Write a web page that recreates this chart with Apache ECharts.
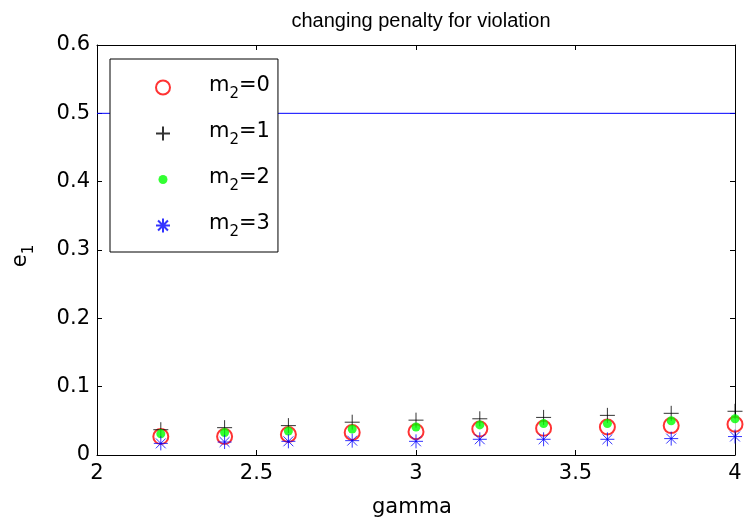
<!DOCTYPE html>
<html>
<head>
<meta charset="utf-8">
<script src="https://cdn.jsdelivr.net/npm/echarts@6/dist/echarts.min.js"></script>
<style>
html,body{margin:0;padding:0;background:#fff;}
#c{width:746px;height:529px;}
</style>
</head>
<body>
<div id="c"></div>
<script>
var gamma = [2.2, 2.4, 2.6, 2.8, 3.0, 3.2, 3.4, 3.6, 3.8, 4.0];
var m2_0 = [0.027, 0.027, 0.030, 0.033, 0.034, 0.038, 0.039, 0.041, 0.043, 0.045];
var m2_1 = [0.037, 0.040, 0.043, 0.048, 0.051, 0.053, 0.055, 0.058, 0.061, 0.064];
var m2_2 = [0.031, 0.033, 0.035, 0.038, 0.041, 0.044, 0.046, 0.046, 0.050, 0.053];
var m2_3 = [0.017, 0.019, 0.020, 0.021, 0.020, 0.023, 0.023, 0.023, 0.024, 0.027];
var refLineX = [2, 4];
var refLineY = [0.5, 0.5];
var xTicks = ['2', '2.5', '3', '3.5', '4'];
var yTicks = ['0', '0.1', '0.2', '0.3', '0.4', '0.5', '0.6'];
var seriesNames = ['m2=0', 'm2=1', 'm2=2', 'm2=3'];

function pairs(xs, ys) { return xs.map(function (x, i) { return [x, ys[i]]; }); }

var FONT = 'DejaVu Sans';
var TFONT = 'Liberation Sans';
var FS = 21;
var plusPath = 'path://M0,-1L0,1M-1,0L1,0';
var starPath = 'path://M0,-1L0,1M-1,0L1,0M-0.7071,-0.7071L0.7071,0.7071M-0.7071,0.7071L0.7071,-0.7071';
var dotLegend = 'path://M-7,-7M7,7M-4.5,0A4.5,4.5,0,1,0,4.5,0A4.5,4.5,0,1,0,-4.5,0Z';

function xLabel(v) { var i = Math.round((v - 2) / 0.5); return xTicks[i] !== undefined ? xTicks[i] : ''; }
function yLabel(v) { var i = Math.round(v / 0.1); return yTicks[i] !== undefined ? yTicks[i] : ''; }

var chart = echarts.init(document.getElementById('c'), null, {renderer: 'canvas'});
var axisCommon = {
  axisLine: {show: true, onZero: false, lineStyle: {color: '#000', width: 1}},
  axisTick: {show: true, inside: true, length: 5, lineStyle: {color: '#000'}},
  splitLine: {show: false}
};
chart.setOption({
  animation: false,
  backgroundColor: '#fff',
  title: {
    text: 'changing penalty for violation',
    left: 416, top: 6, textAlign: 'center',
    textStyle: {fontFamily: TFONT, fontSize: 20, fontWeight: 'normal', color: '#000'}
  },
  grid: {left: 97, right: 11, top: 45, bottom: 74},
  legend: {
    left: 110, top: 59, orient: 'vertical',
    backgroundColor: '#fff',
    borderColor: '#000', borderWidth: 1,
    padding: [16, 8, 12, 45],
    itemGap: 19, itemWidth: 14, itemHeight: 14,
    data: [
      {name: 'm2=0', icon: 'emptyCircle'},
      {name: 'm2=1', icon: plusPath},
      {name: 'm2=2', icon: dotLegend},
      {name: 'm2=3', icon: starPath}
    ],
    formatter: function (n) { return '{sp| }{m|m}{s|2}{m|=' + n.split('=')[1] + '}'; },
    textStyle: {
      fontFamily: FONT, color: '#000',
      rich: {
        sp: {width: 34, fontSize: FS, lineHeight: 26},
        m: {fontFamily: FONT, fontSize: FS, color: '#000', padding: [0, 0, 4, 0]},
        s: {fontFamily: FONT, fontSize: 15, color: '#000', padding: [14, 0, 0, 0]}
      }
    }
  },
  xAxis: [
    Object.assign({type: 'value', min: 2, max: 4, interval: 0.5, position: 'bottom',
      name: 'gamma', nameLocation: 'middle', nameGap: 42,
      nameTextStyle: {fontFamily: FONT, fontSize: FS, color: '#000', padding: [0, 8, 0, 0]},
      axisLabel: {formatter: xLabel, fontFamily: FONT, fontSize: FS, color: '#000', margin: 8}}, axisCommon),
    Object.assign({type: 'value', min: 2, max: 4, interval: 0.5, position: 'top',
      axisLabel: {show: false}}, axisCommon)
  ],
  yAxis: [
    Object.assign({type: 'value', min: 0, max: 0.6, interval: 0.1, position: 'left',
      name: '{e|e}{s|1}', nameLocation: 'middle', nameGap: 60, nameRotate: 90,
      nameTextStyle: {fontFamily: FONT, fontSize: FS, color: '#000', padding: [0, 12, 0, 0],
        rich: {e: {fontFamily: FONT, fontSize: FS, color: '#000', padding: [0, 0, 4, 0]},
               s: {fontFamily: FONT, fontSize: 15, color: '#000', padding: [14, 0, 0, 0]}}},
      axisLabel: {formatter: yLabel, fontFamily: FONT, fontSize: FS, color: '#000', margin: 7}}, axisCommon),
    Object.assign({type: 'value', min: 0, max: 0.6, interval: 0.1, position: 'right',
      axisLabel: {show: false}}, axisCommon)
  ],
  series: [
    {type: 'line', name: 'ref', data: pairs(refLineX, refLineY), symbol: 'none',
      lineStyle: {color: '#0000ff', width: 1}, z: 1, silent: true},
    {type: 'scatter', name: seriesNames[0], data: pairs(gamma, m2_0), symbol: 'emptyCircle', symbolSize: 15,
      itemStyle: {color: '#ff0000', borderColor: '#ff0000', borderWidth: 1}, z: 2},
    {type: 'scatter', name: seriesNames[1], data: pairs(gamma, m2_1), symbol: plusPath, symbolSize: 15,
      itemStyle: {color: '#000', borderColor: '#000', borderWidth: 1}, z: 3},
    {type: 'scatter', name: seriesNames[2], data: pairs(gamma, m2_2), symbol: 'circle', symbolSize: 9,
      itemStyle: {color: '#00ff00'}, z: 4},
    {type: 'scatter', name: seriesNames[3], data: pairs(gamma, m2_3), symbol: starPath, symbolSize: 14,
      itemStyle: {color: '#0000ff', borderColor: '#0000ff', borderWidth: 1}, z: 5}
  ]
});
</script>
</body>
</html>
